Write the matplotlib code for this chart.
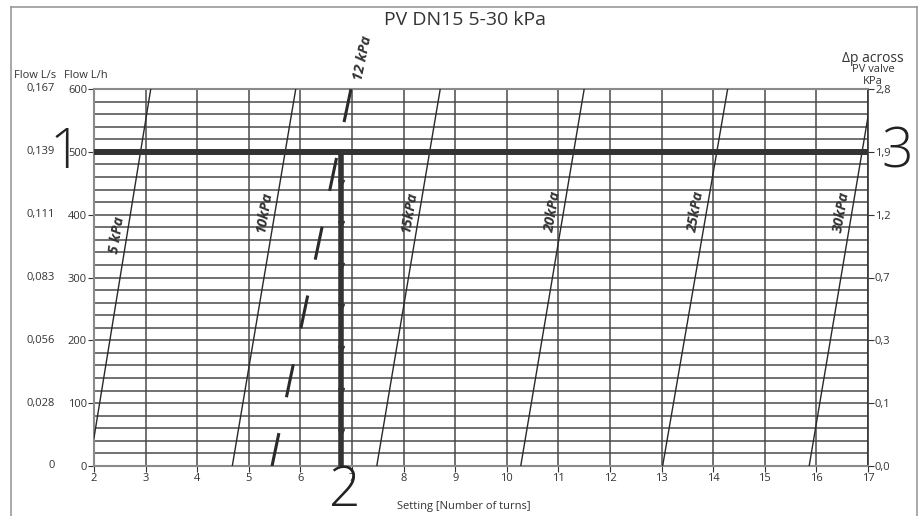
import matplotlib
matplotlib.use("Agg")
import matplotlib.pyplot as plt
import matplotlib.transforms as mtransforms
from matplotlib.lines import Line2D
import numpy as np

plt.rcParams['font.family'] = ['Open Sans', 'DejaVu Sans']

# kPa lines: (setting, flow) at the lower and upper end
kpa_labels = ['5 kPa', '10kPa', '15kPa', '20kPa', '25kPa', '30kPa']
line_x0 = [2.0, 4.68, 7.48, 10.27, 13.02, 15.86]
line_y0 = [45, 0, 0, 0, 0, 0]
line_x1 = [3.10, 5.91, 8.71, 11.50, 14.28, 17.09]
line_y1 = [600, 600, 600, 600, 600, 600]

# dashed 12 kPa line
dash_label = '12 kPa'
dash_x = [5.45, 6.98]
dash_y = [0, 600]

# operating point
setting_sel = 6.78
flow_sel = 500
arrow_flows = [54, 119, 186, 253, 319, 385, 451]

flow_ticks = [0, 100, 200, 300, 400, 500, 600]
flow_ls = ['0', '0,028', '0,056', '0,083', '0,111', '0,139', '0,167']
dp_labels = ['0,0', '0,1', '0,3', '0,7', '1,2', '1,9', '2,8']
x_ticks = list(range(2, 18))

W, H = 923, 516
fig = plt.figure(figsize=(W / 100, H / 100), dpi=100)
ax = fig.add_axes([94 / W, 50 / H, 774 / W, 377 / H])
ax.set_xlim(2, 17)
ax.set_ylim(0, 600)

# grid
ax.set_xticks(x_ticks)
ax.set_yticks(flow_ticks)
ax.set_yticks(np.arange(0, 601, 20), minor=True)
ax.grid(True, which='major', axis='x', color='#4a4a4a', lw=1.1)
ax.grid(True, which='both', axis='y', color='#4a4a4a', lw=1.1)
ax.tick_params(axis='y', which='minor', length=0)
ax.tick_params(axis='both', which='major', labelsize=8, labelcolor='#333333',
               color='#333333', length=4, pad=1)
for s in ['left', 'bottom', 'top']:
    ax.spines[s].set_color('#8a8a8a')
    ax.spines[s].set_linewidth(1.5)
ax.spines['right'].set_color('#333333')
ax.spines['right'].set_linewidth(1.2)

# right axis
ax2 = ax.twinx()
ax2.set_ylim(0, 600)
ax2.set_yticks(flow_ticks)
ax2.set_yticklabels(dp_labels)
ax2.tick_params(axis='y', labelsize=8, labelcolor='#333333', color='#333333', length=4, pad=1)
for s in ax2.spines.values():
    s.set_visible(False)

# kPa lines
label_flow = [368, 404, 404, 404, 404, 404]
for lab, x0, y0, x1, y1, ly in zip(kpa_labels, line_x0, line_y0, line_x1, line_y1, label_flow):
    ax.plot([x0, x1], [y0, y1], color='#2a2a2a', lw=1.0, zorder=3)
    p0 = ax.transData.transform((x0, y0))
    p1 = ax.transData.transform((x1, y1))
    ang = np.degrees(np.arctan2(p1[1] - p0[1], p1[0] - p0[0]))
    lx = x0 + (ly - y0) * (x1 - x0) / (y1 - y0) - 0.2
    ax.text(lx, ly, lab, rotation=ang, rotation_mode='anchor', ha='center', va='center',
            fontsize=10.5, fontweight='bold', style='italic', color='#333333', zorder=4)

# dashed 12 kPa
ax.plot(dash_x, dash_y, color='#2a2a2a', lw=2.2, linestyle=(0, (11, 12)),
        solid_capstyle='butt', dash_capstyle='butt', zorder=3)
p0 = ax.transData.transform((dash_x[0], dash_y[0]))
p1 = ax.transData.transform((dash_x[1], dash_y[1]))
ang = np.degrees(np.arctan2(p1[1] - p0[1], p1[0] - p0[0]))
ax.text(7.2, 650, dash_label, rotation=ang, rotation_mode='anchor', ha='center', va='center',
        fontsize=10.5, fontweight='bold', style='italic', color='#333333', clip_on=False)

# operating point lines
ax.plot([2, 17], [flow_sel, flow_sel], color='#333333', lw=4.3, solid_capstyle='butt',
        zorder=5, clip_on=False)
ax.plot([setting_sel, setting_sel], [0, flow_sel], color='#333333', lw=4.0,
        solid_capstyle='butt', zorder=5)
ax.plot([setting_sel] * len(arrow_flows), arrow_flows, linestyle='none', marker='v',
        markersize=5, color='#333333', zorder=6)

# left L/s column
trans = mtransforms.blended_transform_factory(fig.transFigure, ax.transData)
for f, s in zip(flow_ticks, flow_ls):
    ax.text(55 / W, f, s, transform=trans, ha='right', va='center', fontsize=8,
            color='#333333', clip_on=False)

# headers and titles
fig.text(465 / W, 1 - 20 / H, 'PV DN15 5-30 kPa', ha='center', va='center',
         fontsize=14, color='#333333')
fig.text(35 / W, 1 - 75 / H, 'Flow L/s', ha='center', va='center', fontsize=8, color='#333333')
fig.text(86 / W, 1 - 75 / H, 'Flow L/h', ha='center', va='center', fontsize=8, color='#333333')
fig.text(873 / W, 1 - 58 / H, '\u0394p across', ha='center', va='center', fontsize=10, color='#333333')
fig.text(873 / W, 1 - 70 / H, 'PV valve', ha='center', va='center', fontsize=8, color='#333333')
fig.text(873 / W, 1 - 81 / H, 'KPa', ha='center', va='center', fontsize=8, color='#333333')
fig.text(464 / W, 1 - 507 / H, 'Setting [Number of turns]', ha='center', va='center',
         fontsize=8, color='#333333')

fig.text(65 / W, 1 - 153 / H, '1', ha='center', va='center', fontsize=40,
         fontweight='light', color='#222222')
fig.text(345 / W, 1 - 491 / H, '2', ha='center', va='center', fontsize=40,
         fontweight='light', color='#222222')
fig.text(897 / W, 1 - 153 / H, '3', ha='center', va='center', fontsize=40,
         fontweight='light', color='#222222')

# frame
fig.add_artist(Line2D([11 / W, 11 / W], [0, 1 - 7 / H], color='#999999', lw=1.2))
fig.add_artist(Line2D([11 / W, 917 / W], [1 - 7 / H, 1 - 7 / H], color='#999999', lw=1.2))
fig.add_artist(Line2D([917 / W, 917 / W], [0, 1 - 7 / H], color='#999999', lw=1.2))

fig.savefig('out.png', dpi=100)
